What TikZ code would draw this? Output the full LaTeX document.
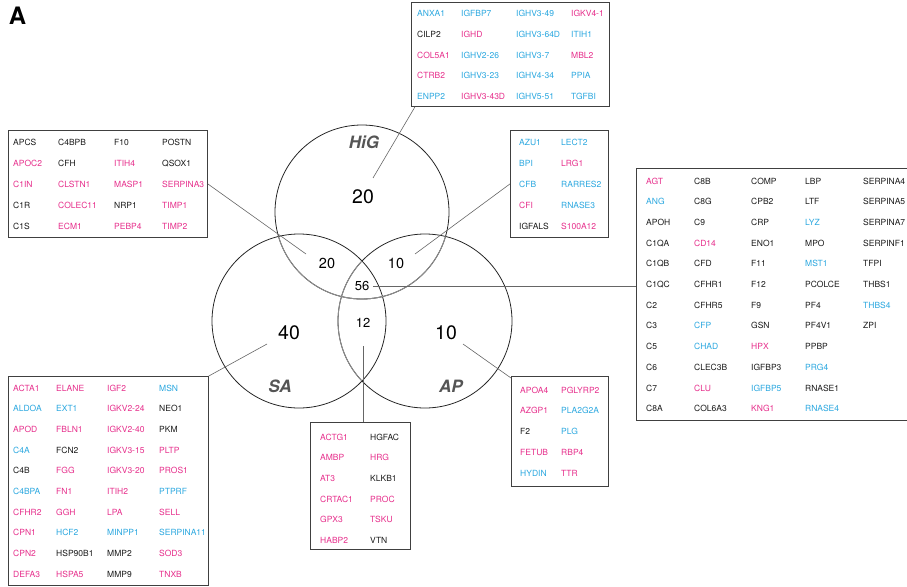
\documentclass[tikz,border=0pt]{standalone}
\usepackage{fontspec}
\setmainfont{TeX Gyre Heros}
\usetikzlibrary{calc}
\definecolor{gm}{HTML}{E62E8B}
\definecolor{gb}{HTML}{2AA7DF}
\definecolor{gk}{HTML}{1A1A1A}
\definecolor{lblc}{HTML}{555555}
\definecolor{boxc}{HTML}{404040}
\definecolor{linec}{HTML}{666666}
\newcommand\genecol[5]{\foreach \t/\c [count=\i] in {#5} {\node[gene,text=g\c] (#1-\i) at (#2,{#3+(\i-1)*#4}) {\t};}}
\begin{document}
\begin{tikzpicture}[x=1pt,y=-1pt,
  gene/.style={anchor=base west,inner sep=0pt,font=\fontsize{8.5}{10}\selectfont},
  genebox/.style={draw=boxc,line width=0.8pt,anchor=north west,inner sep=0pt,rectangle},
  setc/.style={draw=black!85,line width=0.8pt},
  setin/.style={draw=black!45,line width=0.9pt},
  setlbl/.style={inner sep=0pt,text=lblc,font=\fontsize{17}{20}\selectfont\bfseries\itshape},
  bignum/.style={inner sep=0pt,font=\fontsize{19.5}{22}\selectfont},
  midnum/.style={inner sep=0pt,font=\fontsize{14.5}{17}\selectfont},
  smallnum/.style={inner sep=0pt,font=\fontsize{13}{15}\selectfont},
  conn/.style={draw=linec,line width=0.6pt}]
\useasboundingbox (0,0) rectangle (907,586);

\node[inner sep=0pt,font=\fontsize{24}{26}\selectfont\bfseries] (panel) at (17.5,16) {A};

% circles
\coordinate (cH) at (362,212);
\coordinate (cS) at (299,321);
\coordinate (cA) at (425,321);
\draw[setc] (cH) circle[radius=87pt];
\draw[setc] (cS) circle[radius=87pt];
\draw[setc] (cA) circle[radius=87pt];
\begin{scope}\clip (cS) circle[radius=87pt]; \draw[setin] (cH) circle[radius=87pt]; \end{scope}
\begin{scope}\clip (cA) circle[radius=87pt]; \draw[setin] (cH) circle[radius=87pt]; \end{scope}
\begin{scope}\clip (cS) circle[radius=87pt]; \draw[setin] (cA) circle[radius=87pt]; \end{scope}

% set labels and counts
\node[setlbl] (lHiG) at (364,142) {HiG};
\node[setlbl] (lSA) at (280,386) {SA};
\node[setlbl] (lAP) at (451,386) {AP};
\node[bignum] (nH) at (363,197) {20};
\node[bignum] (nS) at (289,333) {40};
\node[bignum] (nA) at (446,333) {10};
\node[midnum] (nHS) at (327,263) {20};
\node[midnum] (nHA) at (396,263) {10};
\node[smallnum] (nAll) at (362,286) {56};
\node[smallnum] (nSA) at (363,323) {12};

% boxes
\node[genebox,minimum width=198pt,minimum height=104pt] (boxT) at (411,2) {};
\node[genebox,minimum width=199pt,minimum height=107pt] (boxL) at (8,130) {};
\node[genebox,minimum width=98pt,minimum height=107pt] (boxR) at (510,130) {};
\node[genebox,minimum width=285pt,minimum height=252pt] (boxC) at (636,168) {};
\node[genebox,minimum width=200pt,minimum height=209pt] (boxS) at (8,376) {};
\node[genebox,minimum width=100pt,minimum height=127pt] (boxM) at (310,422) {};
\node[genebox,minimum width=97pt,minimum height=110pt] (boxP) at (511,376) {};

% top box (HiG only)
\genecol{T1}{417}{17}{20.6}{ANXA1/b,CILP2/k,COL5A1/m,CTRB2/m,ENPP2/b}
\genecol{T2}{461}{17}{20.6}{IGFBP7/b,IGHD/m,IGHV2-26/b,IGHV3-23/b,IGHV3-43D/m}
\genecol{T3}{516}{17}{20.6}{IGHV3-49/b,IGHV3-64D/b,IGHV3-7/b,IGHV4-34/b,IGHV5-51/b}
\genecol{T4}{571}{17}{20.6}{IGKV4-1/m,ITIH1/b,MBL2/m,PPIA/b,TGFBI/b}

% left box (HiG & SA)
\genecol{L1}{13}{145}{21}{APCS/k,APOC2/m,C1IN/m,C1R/k,C1S/k}
\genecol{L2}{58}{145}{21}{C4BPB/k,CFH/k,CLSTN1/m,COLEC11/m,ECM1/m}
\genecol{L3}{114}{145}{21}{F10/k,ITIH4/m,MASP1/m,NRP1/k,PEBP4/m}
\genecol{L4}{162}{145}{21}{POSTN/k,QSOX1/k,SERPINA3/m,TIMP1/m,TIMP2/m}

% right small box (HiG & AP)
\genecol{R1}{519}{145}{21}{AZU1/b,BPI/b,CFB/b,CFI/m,IGFALS/k}
\genecol{R2}{561}{145}{21}{LECT2/b,LRG1/m,RARRES2/b,RNASE3/b,S100A12/m}

% big box (all three)
\genecol{C1}{646}{184}{20.7}{AGT/m,ANG/b,APOH/k,C1QA/k,C1QB/k,C1QC/k,C2/k,C3/k,C5/k,C6/k,C7/k,C8A/k}
\genecol{C2}{694}{184}{20.7}{C8B/k,C8G/k,C9/k,CD14/m,CFD/k,CFHR1/k,CFHR5/k,CFP/b,CHAD/b,CLEC3B/k,CLU/m,COL6A3/k}
\genecol{C3}{751}{184}{20.7}{COMP/k,CPB2/k,CRP/k,ENO1/k,F11/k,F12/k,F9/k,GSN/k,HPX/m,IGFBP3/k,IGFBP5/b,KNG1/m}
\genecol{C4}{805}{184}{20.7}{LBP/k,LTF/k,LYZ/b,MPO/k,MST1/b,PCOLCE/k,PF4/k,PF4V1/k,PPBP/k,PRG4/b,RNASE1/k,RNASE4/b}
\genecol{C5}{863}{184}{20.7}{SERPINA4/k,SERPINA5/k,SERPINA7/k,SERPINF1/k,TFPI/k,THBS1/k,THBS4/b,ZPI/k}

% SA box
\genecol{S1}{13}{391}{20.7}{ACTA1/m,ALDOA/b,APOD/m,C4A/b,C4B/k,C4BPA/b,CFHR2/m,CPN1/m,CPN2/m,DEFA3/m}
\genecol{S2}{56}{391}{20.7}{ELANE/m,EXT1/b,FBLN1/m,FCN2/k,FGG/m,FN1/m,GGH/m,HCF2/b,HSP90B1/k,HSPA5/m}
\genecol{S3}{107}{391}{20.7}{IGF2/m,IGKV2-24/m,IGKV2-40/m,IGKV3-15/m,IGKV3-20/m,ITIH2/m,LPA/m,MINPP1/b,MMP2/k,MMP9/k}
\genecol{S4}{159}{391}{20.7}{MSN/b,NEO1/k,PKM/k,PLTP/m,PROS1/m,PTPRF/b,SELL/m,SERPINA11/b,SOD3/m,TNXB/m}

% middle box (SA & AP)
\genecol{M1}{320}{440}{20.7}{ACTG1/m,AMBP/m,AT3/m,CRTAC1/m,GPX3/m,HABP2/m}
\genecol{M2}{370}{440}{20.7}{HGFAC/k,HRG/m,KLKB1/k,PROC/m,TSKU/m,VTN/k}

% AP box
\genecol{P1}{520}{393}{20.8}{APOA4/m,AZGP1/m,F2/k,FETUB/m,HYDIN/b}
\genecol{P2}{561}{393}{20.8}{PGLYRP2/m,PLA2G2A/b,PLG/b,RBP4/m,TTR/m}

% connectors
\coordinate (sH) at (373,178);
\coordinate (sL) at (306,254);
\coordinate (sR) at (415,254);
\coordinate (s56) at (373,286);
\coordinate (sS) at (267,344);
\coordinate (s12) at (363,346);
\coordinate (sP) at (463,344);
\draw[conn] (sH) -- ($(boxT.south west)+(4,0)$);
\draw[conn] (sL) -- (boxL.east);
\draw[conn] (sR) -- (boxR.west);
\draw[conn] (s56) -- (s56 -| boxC.west);
\draw[conn] (sS) -- (boxS.north east);
\draw[conn] (s12) -- (s12 |- boxM.north);
\draw[conn] (sP) -- ($(boxP.north west)+(0,2)$);
\end{tikzpicture}
\end{document}
